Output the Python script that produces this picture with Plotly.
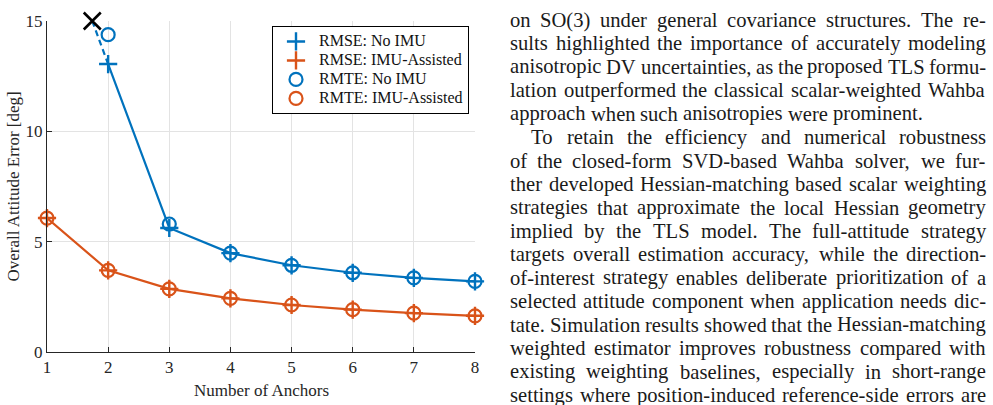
import plotly.graph_objects as go

# ---------------- data ----------------
anchors = [1, 2, 3, 4, 5, 6, 7, 8]
rmse_no_imu = [None, 13.05, 5.62, 4.48, 3.93, 3.59, 3.36, 3.20]
rmte_no_imu = [None, 14.38, 5.80, 4.48, 3.93, 3.59, 3.36, 3.20]
rmse_imu = [6.07, 3.70, 2.86, 2.43, 2.13, 1.92, 1.76, 1.64]
rmte_imu = [6.07, 3.70, 2.86, 2.43, 2.13, 1.92, 1.76, 1.64]
diverge_x = [1.74]
diverge_y = [15.0]
x_ticks = [1, 2, 3, 4, 5, 6, 7, 8]
y_ticks = [0, 5, 10, 15]

paragraph_lines = [
    "on SO(3) under general covariance structures. The re-",
    "sults highlighted the importance of accurately modeling",
    "anisotropic DV uncertainties, as the proposed TLS formu-",
    "lation outperformed the classical scalar-weighted Wahba",
    "approach when such anisotropies were prominent.",
    "To retain the efficiency and numerical robustness",
    "of the closed-form SVD-based Wahba solver, we fur-",
    "ther developed Hessian-matching based scalar weighting",
    "strategies that approximate the local Hessian geometry",
    "implied by the TLS model. The full-attitude strategy",
    "targets overall estimation accuracy, while the direction-",
    "of-interest strategy enables deliberate prioritization of a",
    "selected attitude component when application needs dic-",
    "tate. Simulation results showed that the Hessian-matching",
    "weighted estimator improves robustness compared with",
    "existing weighting baselines, especially in short-range",
    "settings where position-induced reference-side errors are",
]
last_of_paragraph = {4}
indented = {5}

BLUE = "#0072BD"
ORANGE = "#D95319"
FONT = "Times New Roman, Liberation Serif, Tinos, serif"

# ---------------- layout geometry (pixels) ----------------
W, H = 993, 405
L, R, T, B = 47, 475, 16, 352   # plot area edges


def px(x):
    return (x - L) / (R - L)


def py(y):
    return (B - y) / (B - T)


def legend_name(s):
    return "<span style='font-size:16px'>" + s + "</span>"


fig = go.Figure()

# lines
fig.add_trace(go.Scatter(x=anchors[1:], y=rmse_no_imu[1:], mode="lines",
                         line=dict(color=BLUE, width=2.2), showlegend=False,
                         hoverinfo="skip", cliponaxis=False))
fig.add_trace(go.Scatter(x=anchors, y=rmse_imu, mode="lines",
                         line=dict(color=ORANGE, width=2.2), showlegend=False,
                         hoverinfo="skip", cliponaxis=False))
fig.add_trace(go.Scatter(x=[diverge_x[0], anchors[1]], y=[diverge_y[0], rmse_no_imu[1]],
                         mode="lines", line=dict(color=BLUE, width=2.2, dash="6px,4px"),
                         showlegend=False, hoverinfo="skip", cliponaxis=False))

# markers
fig.add_trace(go.Scatter(x=anchors, y=rmse_no_imu, mode="markers", name=legend_name("RMSE: No IMU"),
                         marker=dict(symbol="cross-thin-open", color=BLUE, size=13,
                                     line=dict(width=2.4, color=BLUE)), cliponaxis=False))
fig.add_trace(go.Scatter(x=anchors, y=rmse_imu, mode="markers", name=legend_name("RMSE: IMU-Assisted"),
                         marker=dict(symbol="cross-thin-open", color=ORANGE, size=13,
                                     line=dict(width=2.4, color=ORANGE)), cliponaxis=False))
fig.add_trace(go.Scatter(x=anchors, y=rmte_no_imu, mode="markers", name=legend_name("RMTE: No IMU"),
                         marker=dict(symbol="circle-open", color=BLUE, size=13,
                                     line=dict(width=2.2, color=BLUE)), cliponaxis=False))
fig.add_trace(go.Scatter(x=anchors, y=rmte_imu, mode="markers", name=legend_name("RMTE: IMU-Assisted"),
                         marker=dict(symbol="circle-open", color=ORANGE, size=13,
                                     line=dict(width=2.2, color=ORANGE)), cliponaxis=False))
fig.add_trace(go.Scatter(x=diverge_x, y=diverge_y, mode="markers", showlegend=False,
                         marker=dict(symbol="x-thin-open", color="black", size=17,
                                     line=dict(width=2.6, color="black")),
                         hoverinfo="skip", cliponaxis=False))

axis_common = dict(showgrid=True, gridcolor="#e3e3e3", gridwidth=1,
                   showline=True, linecolor="#262626", linewidth=1,
                   ticks="inside", ticklen=5, tickcolor="#262626", mirror=False,
                   zeroline=False, tickfont=dict(family=FONT, size=17, color="#262626"))

fig.update_layout(
    width=W, height=H,
    margin=dict(l=L, r=W - R, t=T, b=H - B, pad=0),
    paper_bgcolor="white", plot_bgcolor="white",
    font=dict(family=FONT),
    xaxis=dict(range=[1, 8], tickvals=x_ticks, **axis_common),
    yaxis=dict(range=[0, 15], tickvals=y_ticks, **axis_common),
    legend=dict(x=px(272), y=py(21), xanchor="left", yanchor="top",
                bordercolor="black", borderwidth=1, bgcolor="white",
                font=dict(family=FONT, size=12.2, color="#111"),
                itemwidth=36, tracegroupgap=0),
    showlegend=True,
)

annotations = [
    dict(text="Number of Anchors", x=px(261), y=py(391), xref="paper", yref="paper",
         showarrow=False, xanchor="center", yanchor="middle",
         font=dict(family=FONT, size=17, color="#262626")),
    dict(text="Overall Attitude Error [deg]", x=px(13), y=py(184), xref="paper", yref="paper",
         showarrow=False, xanchor="center", yanchor="middle", textangle=-90,
         font=dict(family=FONT, size=17, color="#262626")),
]

# ---------- justified paragraph text (Times metrics, /1000 em) ----------
widths = {" ": 250, "a": 444, "b": 500, "c": 444, "d": 500, "e": 444, "f": 333, "g": 500,
          "h": 500, "i": 278, "j": 278, "k": 500, "l": 278, "m": 778, "n": 500, "o": 500,
          "p": 500, "q": 500, "r": 333, "s": 389, "t": 278, "u": 500, "v": 500, "w": 722,
          "x": 500, "y": 500, "z": 444, "A": 722, "B": 667, "C": 667, "D": 722, "E": 611,
          "F": 556, "G": 722, "H": 722, "I": 333, "J": 389, "K": 722, "L": 611, "M": 889,
          "N": 722, "O": 722, "P": 556, "Q": 722, "R": 667, "S": 556, "T": 611, "U": 722,
          "V": 722, "W": 944, "X": 722, "Y": 722, "Z": 611, ".": 250, ",": 250, "-": 333,
          "(": 333, ")": 333, ":": 278, "0": 500, "1": 500, "2": 500, "3": 500, "4": 500,
          "5": 500, "6": 500, "7": 500, "8": 500, "9": 500}

FS = 20.6
TEXT_L, TEXT_R = 509, 985
INDENT = 21
LINE0, LEAD = 15, 23.8


def wwidth(w):
    return sum(widths.get(c, 500) for c in w) / 1000.0 * FS


for i, line in enumerate(paragraph_lines):
    words = line.split(" ")
    left = TEXT_L + (INDENT if i in indented else 0)
    ws = [wwidth(w) for w in words]
    if i in last_of_paragraph or len(words) == 1:
        gap = widths[" "] / 1000.0 * FS
    else:
        gap = (TEXT_R - left - sum(ws)) / (len(words) - 1)
    xpos = left
    yc = LINE0 + i * LEAD
    for w, wd in zip(words, ws):
        annotations.append(dict(text=w, x=px(xpos), y=py(yc), xref="paper", yref="paper",
                                showarrow=False, xanchor="left", yanchor="middle",
                                borderpad=0,
                                font=dict(family=FONT, size=FS, color="#1a1a1a")))
        xpos += wd + gap

fig.update_layout(annotations=annotations)
fig.write_html("out.html")
